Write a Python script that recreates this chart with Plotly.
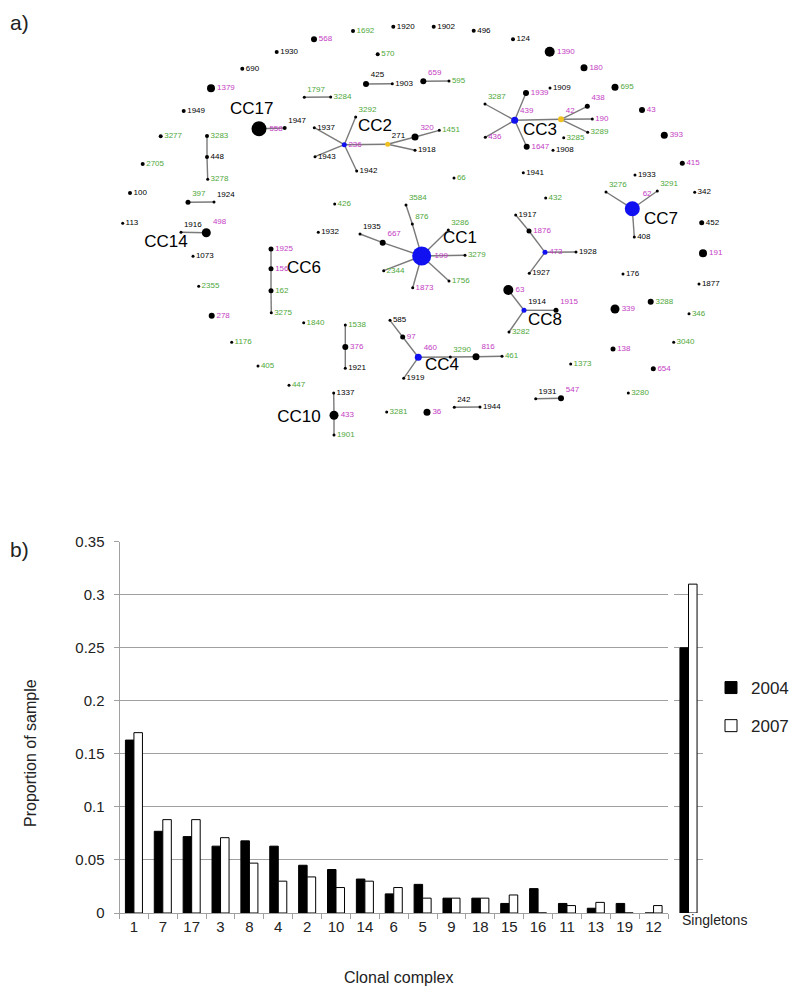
import plotly.graph_objects as go

# ---------------- Panel b data ----------------
clonal_complex = ["1", "7", "17", "3", "8", "4", "2", "10", "14", "6",
                  "5", "9", "18", "15", "16", "11", "13", "19", "12"]
prop_2004 = [0.163, 0.077, 0.072, 0.063, 0.068, 0.063, 0.045, 0.041, 0.032, 0.018,
             0.027, 0.014, 0.014, 0.009, 0.023, 0.009, 0.0045, 0.009, 0.0]
prop_2007 = [0.170, 0.088, 0.088, 0.071, 0.047, 0.030, 0.034, 0.024, 0.030, 0.024,
             0.014, 0.014, 0.014, 0.017, 0.0, 0.007, 0.010, 0.0, 0.007]
singleton_cat = ["Singletons"]
singleton_2004 = [0.25]
singleton_2007 = [0.31]
y_tick_vals = [0, 0.05, 0.1, 0.15, 0.2, 0.25, 0.3, 0.35]
y_tick_text = ["0", "0.05", "0.1", "0.15", "0.2", "0.25", "0.3", "0.35"]

# ---------------- Panel a data (eBURST-style network) ----------------
K, M, G, B, Y = "black", "#c43cc4", "#4ea83a", "#1010f0", "#f0c020"
MR, TR = "middle right", "top right"

node_label = ["1930", "690", "1379", "1949", "558", "1947", "3277", "3283", "448", "568",
              "1692", "1920", "1902", "496", "124", "570", "425", "1903", "659", "595",
              "1797", "3284", "3292", "1937", "236", "271", "320", "1451", "1918", "1943",
              "1942", "3287", "439", "436", "1390", "180", "1939", "1909", "695", "43",
              "42", "438", "190", "3289", "3285", "1647", "1908", "393", "415", "2705",
              "3278", "100", "397", "1924", "113", "1916", "498", "1073", "1925", "156",
              "162", "2355", "66", "426", "3584", "876", "3286", "1932", "1935", "667",
              "199", "3279", "2344", "1873", "1756", "63", "1941", "1933", "432", "3276",
              "3291", "342", "62", "408", "452", "1917", "1876", "473", "1928", "1927",
              "191", "176", "1877", "3275", "278", "1840", "1176", "405", "447", "1538",
              "376", "1921", "585", "97", "460", "3290", "816", "461", "1919", "1337",
              "433", "1901", "3281", "36", "242", "1944", "3282", "1914", "1915", "339",
              "3288", "346", "3040", "138", "1373", "654", "3280", "1931", "547"]
node_x = [276.7, 242.3, 211, 183.7, 259, 284.7, 160.7, 207, 207, 314,
          353, 393.3, 433.7, 473.7, 513, 377.7, 366, 392.3, 423.3, 449,
          304.3, 330.7, 355.7, 314.3, 344.3, 387.7, 415, 439.3, 415, 315,
          356.7, 485, 514.7, 485.3, 549.7, 584, 526, 550, 615, 642,
          561, 587.3, 592.3, 587.7, 563.7, 526.7, 553, 664.3, 682.3, 142.7,
          207.7, 130, 188, 214, 122.7, 181, 206.3, 193, 271, 271,
          271, 198.7, 454, 334.7, 406, 412.3, 448.3, 318.3, 360, 382.7,
          421.7, 465, 383.7, 412.7, 449, 508.3, 523.3, 635, 545.7, 606,
          657.3, 694.7, 632.3, 634.3, 701.7, 515.7, 529, 545, 576, 529.3,
          703, 623, 699, 271.3, 211.7, 303.7, 231.7, 258, 289, 345.3,
          345.3, 345.3, 390, 402.7, 418.3, 450.3, 476, 502, 403.7, 333.7,
          334, 334, 386.7, 427, 454.3, 480, 509, 524, 556, 615,
          650.7, 689, 673.7, 613, 570.7, 653.3, 628.3, 535.7, 561]
node_y = [52, 68.7, 88.3, 111, 128.7, 128, 136.3, 136, 157, 39.3,
          31, 26.7, 26.7, 30.7, 39.3, 54.3, 84, 83.7, 81.3, 81,
          97.3, 97, 117, 127.7, 144.7, 144.3, 137, 130.3, 150.3, 156.7,
          171, 104, 120.3, 137.3, 51.7, 67.7, 93, 88, 87.3, 110,
          119.3, 106.3, 119, 132.3, 137.7, 146.7, 150.3, 135.3, 163.3, 164,
          179.3, 193, 202.3, 202, 223.3, 232.3, 232.7, 256.3, 249, 268.7,
          290.7, 286.3, 178, 204, 205, 224, 230, 232.3, 234, 242.7,
          256, 255.3, 270.7, 287.7, 281, 290, 172.7, 175, 198, 192,
          191, 192.3, 208.7, 237, 222.7, 215, 231, 252.3, 252, 273.3,
          253.3, 274, 284, 312.7, 315.7, 322.7, 342.3, 366, 385.3, 325,
          347, 368.3, 320.3, 337, 357.3, 357, 356.7, 356.3, 378.3, 393,
          415.3, 435, 412, 412.3, 407.3, 407, 332, 310.3, 310.3, 309,
          301.7, 313.7, 342.3, 349, 364, 368.7, 393, 398.7, 398.3]
node_size = [4, 4, 8, 4, 15, 4, 4, 4, 4, 6,
             4, 4, 4, 4, 4, 4, 6, 3, 6, 3,
             3, 3, 3, 3, 5, 5, 7, 3, 3, 3,
             3, 3, 7, 3, 10, 7, 6, 3, 7, 6,
             6, 5, 3, 3, 3, 6, 3, 7, 5, 4,
             3, 4, 5, 3, 3, 3, 9, 3, 5, 5,
             5, 3, 3, 3, 3, 3, 3, 3, 3, 6,
             19, 3, 3, 3, 3, 10, 3, 3, 3, 3,
             3, 3, 15, 3, 5, 3, 5, 5, 3, 3,
             8, 3, 3, 3, 6, 3, 3, 3, 3, 3,
             6, 3, 3, 5, 7, 3, 7, 3, 3, 3,
             9, 3, 3, 7, 3, 3, 3, 5, 5, 9,
             6, 3, 3, 5, 3, 5, 3, 3, 6]
node_fill = [K, K, K, K, K, K, K, K, K, K,
             K, K, K, K, K, K, K, K, K, K,
             K, K, K, K, B, Y, K, K, K, K,
             K, K, B, K, K, K, K, K, K, K,
             Y, K, K, K, K, K, K, K, K, K,
             K, K, K, K, K, K, K, K, K, K,
             K, K, K, K, K, K, K, K, K, K,
             B, K, K, K, K, K, K, K, K, K,
             K, K, B, K, K, K, K, B, K, K,
             K, K, K, K, K, K, K, K, K, K,
             K, K, K, K, B, K, K, K, K, K,
             K, K, K, K, K, K, K, B, K, K,
             K, K, K, K, K, K, K, K, K]
label_color = [K, K, M, K, M, K, G, G, K, M,
               G, K, K, K, K, G, K, K, M, G,
               G, G, G, K, M, K, M, G, K, K,
               K, G, M, M, M, M, M, K, G, M,
               M, M, M, G, G, M, K, M, M, G,
               G, K, G, K, K, K, M, K, M, M,
               G, G, G, G, G, G, G, K, K, M,
               M, G, G, M, G, M, K, K, G, G,
               G, K, M, K, K, K, M, M, K, K,
               M, K, K, G, M, G, G, G, G, G,
               M, K, K, M, M, G, M, G, K, K,
               M, G, G, M, K, K, G, K, M, M,
               G, G, G, M, G, M, G, K, M]
label_pos = [MR] * len(node_label)
for _lab in ["1947", "271", "42", "460", "3276", "3291", "3290", "816", "1914", "1915",
             "547", "1931", "242", "320", "659", "425", "1797", "3292", "3287", "438",
             "1924", "397", "1916", "498", "3286", "3584", "876", "1935", "667", "62",
             "439"]:
    label_pos[node_label.index(_lab)] = TR

edges = [("558", "1947"), ("3283", "448"), ("448", "3278"), ("425", "1903"), ("659", "595"),
         ("1797", "3284"), ("236", "3292"), ("236", "1937"), ("236", "1943"), ("236", "1942"),
         ("236", "271"), ("271", "320"), ("271", "1918"), ("320", "1451"),
         ("439", "3287"), ("439", "436"), ("439", "1939"), ("439", "1647"), ("439", "42"),
         ("42", "438"), ("42", "190"), ("42", "3289"), ("397", "1924"), ("1916", "498"),
         ("1925", "156"), ("156", "162"), ("162", "3275"),
         ("199", "876"), ("876", "3584"), ("199", "3286"), ("199", "667"), ("667", "1935"),
         ("199", "3279"), ("199", "2344"), ("199", "1873"), ("199", "1756"),
         ("62", "3276"), ("62", "3291"), ("62", "408"),
         ("1917", "1876"), ("1876", "473"), ("473", "1928"), ("473", "1927"),
         ("1538", "376"), ("376", "1921"),
         ("585", "97"), ("97", "460"), ("460", "3290"), ("3290", "816"), ("816", "461"),
         ("460", "1919"), ("1337", "433"), ("433", "1901"), ("242", "1944"),
         ("63", "1914"), ("1914", "3282"), ("1914", "1915"), ("1931", "547")]

cc_names = ["CC17", "CC2", "CC3", "CC1", "CC7", "CC14", "CC6", "CC8", "CC4", "CC10"]
cc_x = [251.7, 375, 540, 460, 661, 166, 304, 545, 442, 299]
cc_y = [110, 126.7, 131, 238.3, 220, 242.7, 269, 321, 366, 418]

# ---------------- Build figure ----------------
FONT = "Arial, Liberation Sans, Helvetica, sans-serif"
fig = go.Figure()

# edges
pos = {lab: (x, y) for lab, x, y in zip(node_label, node_x, node_y)}
ex, ey = [], []
for a, b in edges:
    ex += [pos[a][0], pos[b][0], None]
    ey += [pos[a][1], pos[b][1], None]
fig.add_trace(go.Scatter(x=ex, y=ey, mode="lines", xaxis="x3", yaxis="y3",
                         line=dict(color="#7a7a7a", width=1.4), hoverinfo="skip",
                         showlegend=False))
# nodes
fig.add_trace(go.Scatter(x=node_x, y=node_y, mode="markers+text", xaxis="x3", yaxis="y3",
                         text=node_label, textposition=label_pos,
                         textfont=dict(family=FONT, size=8, color=label_color),
                         marker=dict(size=node_size, color=node_fill, opacity=1,
                                     line=dict(width=0)),
                         cliponaxis=False, showlegend=False))
# clonal complex names
fig.add_trace(go.Scatter(x=cc_x, y=cc_y, mode="text", xaxis="x3", yaxis="y3",
                         text=cc_names, textposition="middle center",
                         textfont=dict(family=FONT, size=17, color="black"),
                         cliponaxis=False, showlegend=False))

# bars
bar_line = dict(color="black", width=1)
fig.add_trace(go.Bar(x=clonal_complex, y=prop_2004, name="2004", legendgroup="a",
                     marker=dict(color="black", line=bar_line), xaxis="x", yaxis="y"))
fig.add_trace(go.Bar(x=clonal_complex, y=prop_2007, name="2007", legendgroup="b",
                     marker=dict(color="white", line=bar_line), xaxis="x", yaxis="y"))
fig.add_trace(go.Bar(x=singleton_cat, y=singleton_2004, name="2004", showlegend=False,
                     marker=dict(color="black", line=bar_line), xaxis="x2", yaxis="y2"))
fig.add_trace(go.Bar(x=singleton_cat, y=singleton_2007, name="2007", showlegend=False,
                     marker=dict(color="white", line=bar_line), xaxis="x2", yaxis="y2"))

W, H = 800, 1008
left, right_main, right_all = 119.5, 668, 703
bottom, top = 913, 541.7
ydom = [(H - bottom) / H, (H - top) / H]
grid = "#a0a0a0"

fig.update_layout(
    width=W, height=H, margin=dict(l=0, r=0, t=0, b=0, autoexpand=False),
    paper_bgcolor="white", plot_bgcolor="white",
    barmode="group", bargap=0.41, bargroupgap=0,
    font=dict(family=FONT, color="#222"),
    xaxis=dict(domain=[left / W, right_main / W], anchor="y", type="category",
               showline=True, linecolor=grid, linewidth=1, ticks="outside",
               tickson="boundaries", ticklen=5, tickcolor=grid,
               tickfont=dict(size=15, color="#222"), showgrid=False),
    yaxis=dict(domain=ydom, anchor="x", range=[0, 0.35], tickvals=y_tick_vals,
               ticktext=y_tick_text, showline=True, linecolor=grid, linewidth=1,
               ticks="outside", ticklen=5, tickcolor=grid, ticklabelstandoff=6,
               showgrid=True, gridcolor=grid, gridwidth=1, zeroline=False,
               tickfont=dict(size=15, color="#222")),
    xaxis2=dict(domain=[674 / W, right_all / W], anchor="y2", type="category",
                showline=False, ticks="", showticklabels=False, showgrid=False),
    yaxis2=dict(domain=ydom, anchor="x2", range=[0, 0.35], tickvals=y_tick_vals,
                showticklabels=False, showline=False, showgrid=True, gridcolor=grid,
                gridwidth=1, zeroline=False),
    xaxis3=dict(domain=[0, 1], anchor="y3", range=[0, W], visible=False),
    yaxis3=dict(domain=[1 - 440 / H, 1], anchor="x3", range=[440, 0], visible=False),
    legend=dict(x=711 / W, y=1 - 670 / H, xanchor="left", yanchor="top",
                font=dict(size=17, color="#222"), traceorder="grouped",
                tracegroupgap=13, bgcolor="rgba(0,0,0,0)"),
    annotations=[
        dict(text="a)", x=8 / W, y=1 - 22 / H, xref="paper", yref="paper",
             xanchor="left", yanchor="middle", showarrow=False, font=dict(size=21, color="#222")),
        dict(text="b)", x=8 / W, y=1 - 549 / H, xref="paper", yref="paper",
             xanchor="left", yanchor="middle", showarrow=False, font=dict(size=21, color="#222")),
        dict(text="Proportion of sample", x=30 / W, y=1 - 753 / H, xref="paper", yref="paper",
             xanchor="center", yanchor="middle", textangle=-90, showarrow=False,
             font=dict(size=16, color="#222")),
        dict(text="Clonal complex", x=398 / W, y=1 - 977 / H, xref="paper", yref="paper",
             xanchor="center", yanchor="middle", showarrow=False,
             font=dict(size=16, color="#222")),
        dict(text=singleton_cat[0], x=singleton_cat[0], xref="x2", xshift=-9,
             y=1 - 920 / H, yref="paper", xanchor="left", yanchor="middle",
             showarrow=False, font=dict(size=14, color="#222")),
    ],
)

fig.write_html(
    "out.html",
    config={"displayModeBar": False},
    post_script="document.body.style.margin='0';document.body.style.padding='0';"
                "document.documentElement.style.overflow='hidden';",
)
